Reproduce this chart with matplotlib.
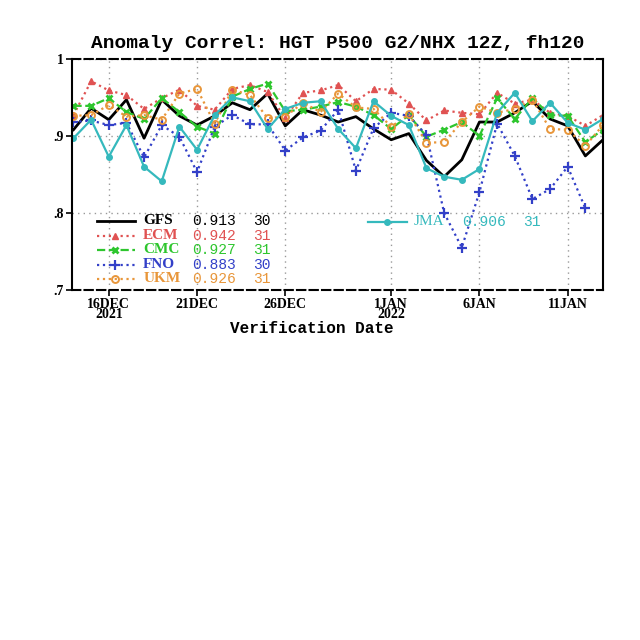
import numpy as np
import matplotlib
matplotlib.use("Agg")
import matplotlib.pyplot as plt

# verification dates, 14 Dec 2021 .. 13 Jan 2022
dates = np.arange(np.datetime64("2021-12-14"), np.datetime64("2022-01-14"))

gfs = [0.908, 0.936, 0.921, 0.947, 0.897, 0.947, 0.926, 0.914, 0.926, 0.943,
       0.934, 0.955, 0.913, 0.934, 0.927, 0.918, 0.925, 0.909, 0.895, 0.903,
       0.868, 0.847, 0.869, 0.918, 0.918, 0.930, 0.945, 0.922, 0.913, 0.874, 0.895]
ecm = [0.927, 0.971, 0.959, 0.953, 0.935, 0.949, 0.960, 0.939, 0.934, 0.961,
       0.966, 0.957, 0.923, 0.956, 0.959, 0.966, 0.945, 0.961, 0.960, 0.942,
       0.920, 0.933, 0.930, 0.928, 0.956, 0.942, 0.947, 0.930, 0.926, 0.913, 0.927]
cmc = [0.939, 0.939, 0.949, 0.931, 0.922, 0.949, 0.931, 0.912, 0.903, 0.951,
       0.961, 0.968, 0.932, 0.934, 0.938, 0.944, 0.938, 0.927, 0.909, 0.927,
       0.899, 0.908, 0.918, 0.900, 0.949, 0.922, 0.949, 0.927, 0.926, 0.892, 0.908]
fno = [0.918, 0.920, 0.914, 0.917, 0.872, 0.914, 0.899, 0.853, 0.912, 0.927,
       0.915, 0.915, 0.881, 0.898, 0.907, 0.934, 0.855, 0.910, 0.930, 0.926,
       0.901, 0.800, 0.755, 0.827, 0.916, 0.874, 0.818, 0.831, 0.860, 0.806, np.nan]
ukm = [0.926, 0.927, 0.940, 0.925, 0.927, 0.921, 0.955, 0.961, 0.916, 0.960,
       0.953, 0.923, 0.925, 0.943, 0.931, 0.955, 0.937, 0.935, 0.912, 0.928,
       0.891, 0.892, 0.918, 0.938, 0.930, 0.935, 0.947, 0.909, 0.908, 0.887, 0.914]
jma = [0.897, 0.921, 0.873, 0.914, 0.860, 0.841, 0.912, 0.882, 0.927, 0.950,
       0.945, 0.909, 0.935, 0.943, 0.945, 0.909, 0.884, 0.945, 0.926, 0.914,
       0.858, 0.847, 0.843, 0.857, 0.930, 0.956, 0.919, 0.943, 0.917, 0.908, 0.922]

# legend entries: name, mean score, number of days
names = ["GFS", "ECM", "CMC", "FNO", "UKM"]
means = ["0.913", "0.942", "0.927", "0.883", "0.926"]
counts = ["30", "31", "31", "30", "31"]
jma_mean = "0.906"
jma_count = "31"

tick_dates = np.array(["2021-12-16", "2021-12-21", "2021-12-26",
                       "2022-01-01", "2022-01-06", "2022-01-11"], dtype="datetime64[D]")
tick_labels = ["16DEC\n2021", "21DEC", "26DEC", "1JAN\n2022", "6JAN", "11JAN"]

colors = ["black", "#e05252", "#2ec62e", "#3340c8", "#e8963a"]
jma_color = "#35b9bd"
styles = [dict(ls="-", lw=2.0),
          dict(ls=":", lw=1.6, marker="^", ms=5),
          dict(ls="--", lw=1.6, marker="x", ms=5, mew=2),
          dict(ls=":", lw=1.6, marker="+", ms=7, mew=1.6),
          dict(ls=":", lw=1.6, marker="o", ms=5, mfc="none", mew=1.4)]

fig = plt.figure(figsize=(6.4, 6.4), dpi=100)
ax = fig.add_axes([0.1125, 0.547, 0.8297, 0.361])

series = [gfs, ecm, cmc, fno, ukm]
for vals, c, st in zip(series, colors, styles):
    ax.plot(dates, vals, color=c, **st)
ax.plot(dates, jma, color=jma_color, lw=1.6, marker="o", ms=4)

ax.set_ylim(0.7, 1.0)
ax.set_xlim(np.datetime64("2021-12-14") - np.timedelta64(2, "h"), np.datetime64("2022-01-13"))
ax.set_yticks([0.7, 0.8, 0.9, 1.0])
ax.set_yticklabels([".7", ".8", ".9", "1"], fontfamily="Liberation Serif",
                   fontweight="bold", fontsize=10)
ax.set_xticks(tick_dates)
ax.set_xticklabels(tick_labels, fontfamily="Liberation Serif", fontweight="bold",
                   fontsize=10, linespacing=0.72)
ax.tick_params(axis="both", length=4, width=1.2, pad=2)
ax.grid(True, color="#999999", ls=(0, (1, 3)), lw=1.0)

for side in ["top", "bottom"]:
    ax.spines[side].set_linestyle((0, (4, 2)))
    ax.spines[side].set_linewidth(1.5)
for side in ["left", "right"]:
    ax.spines[side].set_linewidth(1.5)

ax.set_title("Anomaly Correl: HGT P500 G2/NHX 12Z, fh120", fontfamily="Liberation Mono",
             fontweight="bold", fontsize=14, pad=8)
ax.set_xlabel("Verification Date", fontfamily="Liberation Mono", fontweight="bold",
              fontsize=11.5)
ax.xaxis.set_label_coords(0.452, -0.135)

# hand drawn legend inside the axes
rows = [0.299, 0.234, 0.173, 0.108, 0.048]
for name, m, n, c, st, y in zip(names, means, counts, colors, styles, rows):
    ax.plot([0.047, 0.119], [y, y], transform=ax.transAxes, color=c,
            ls=st["ls"], lw=st["lw"], clip_on=False)
    if "marker" in st:
        mk = {k: v for k, v in st.items() if k not in ("ls", "lw")}
        ax.plot([0.081], [y], transform=ax.transAxes, color=c, ls="none", **mk)
    ax.text(0.134, y, name, transform=ax.transAxes, color=c, va="center",
            fontfamily="Liberation Serif", fontweight="bold", fontsize=11)
    ax.text(0.226, y, m, transform=ax.transAxes, color=c, va="center",
            fontfamily="Liberation Mono", fontsize=10.5)
    ax.text(0.341, y, n, transform=ax.transAxes, color=c, va="center",
            fontfamily="Liberation Mono", fontsize=10.5)

ax.plot([0.557, 0.631], [0.294, 0.294], transform=ax.transAxes, color=jma_color, lw=1.6)
ax.plot([0.593], [0.294], transform=ax.transAxes, color=jma_color, marker="o", ms=4)
ax.text(0.644, 0.294, "JMA", transform=ax.transAxes, color=jma_color, va="center",
        fontfamily="Liberation Serif", fontsize=11)
ax.text(0.734, 0.294, jma_mean, transform=ax.transAxes, color=jma_color, va="center",
        fontfamily="Liberation Mono", fontsize=10.5)
ax.text(0.849, 0.294, jma_count, transform=ax.transAxes, color=jma_color, va="center",
        fontfamily="Liberation Mono", fontsize=10.5)

fig.savefig("out.png", dpi=100)
